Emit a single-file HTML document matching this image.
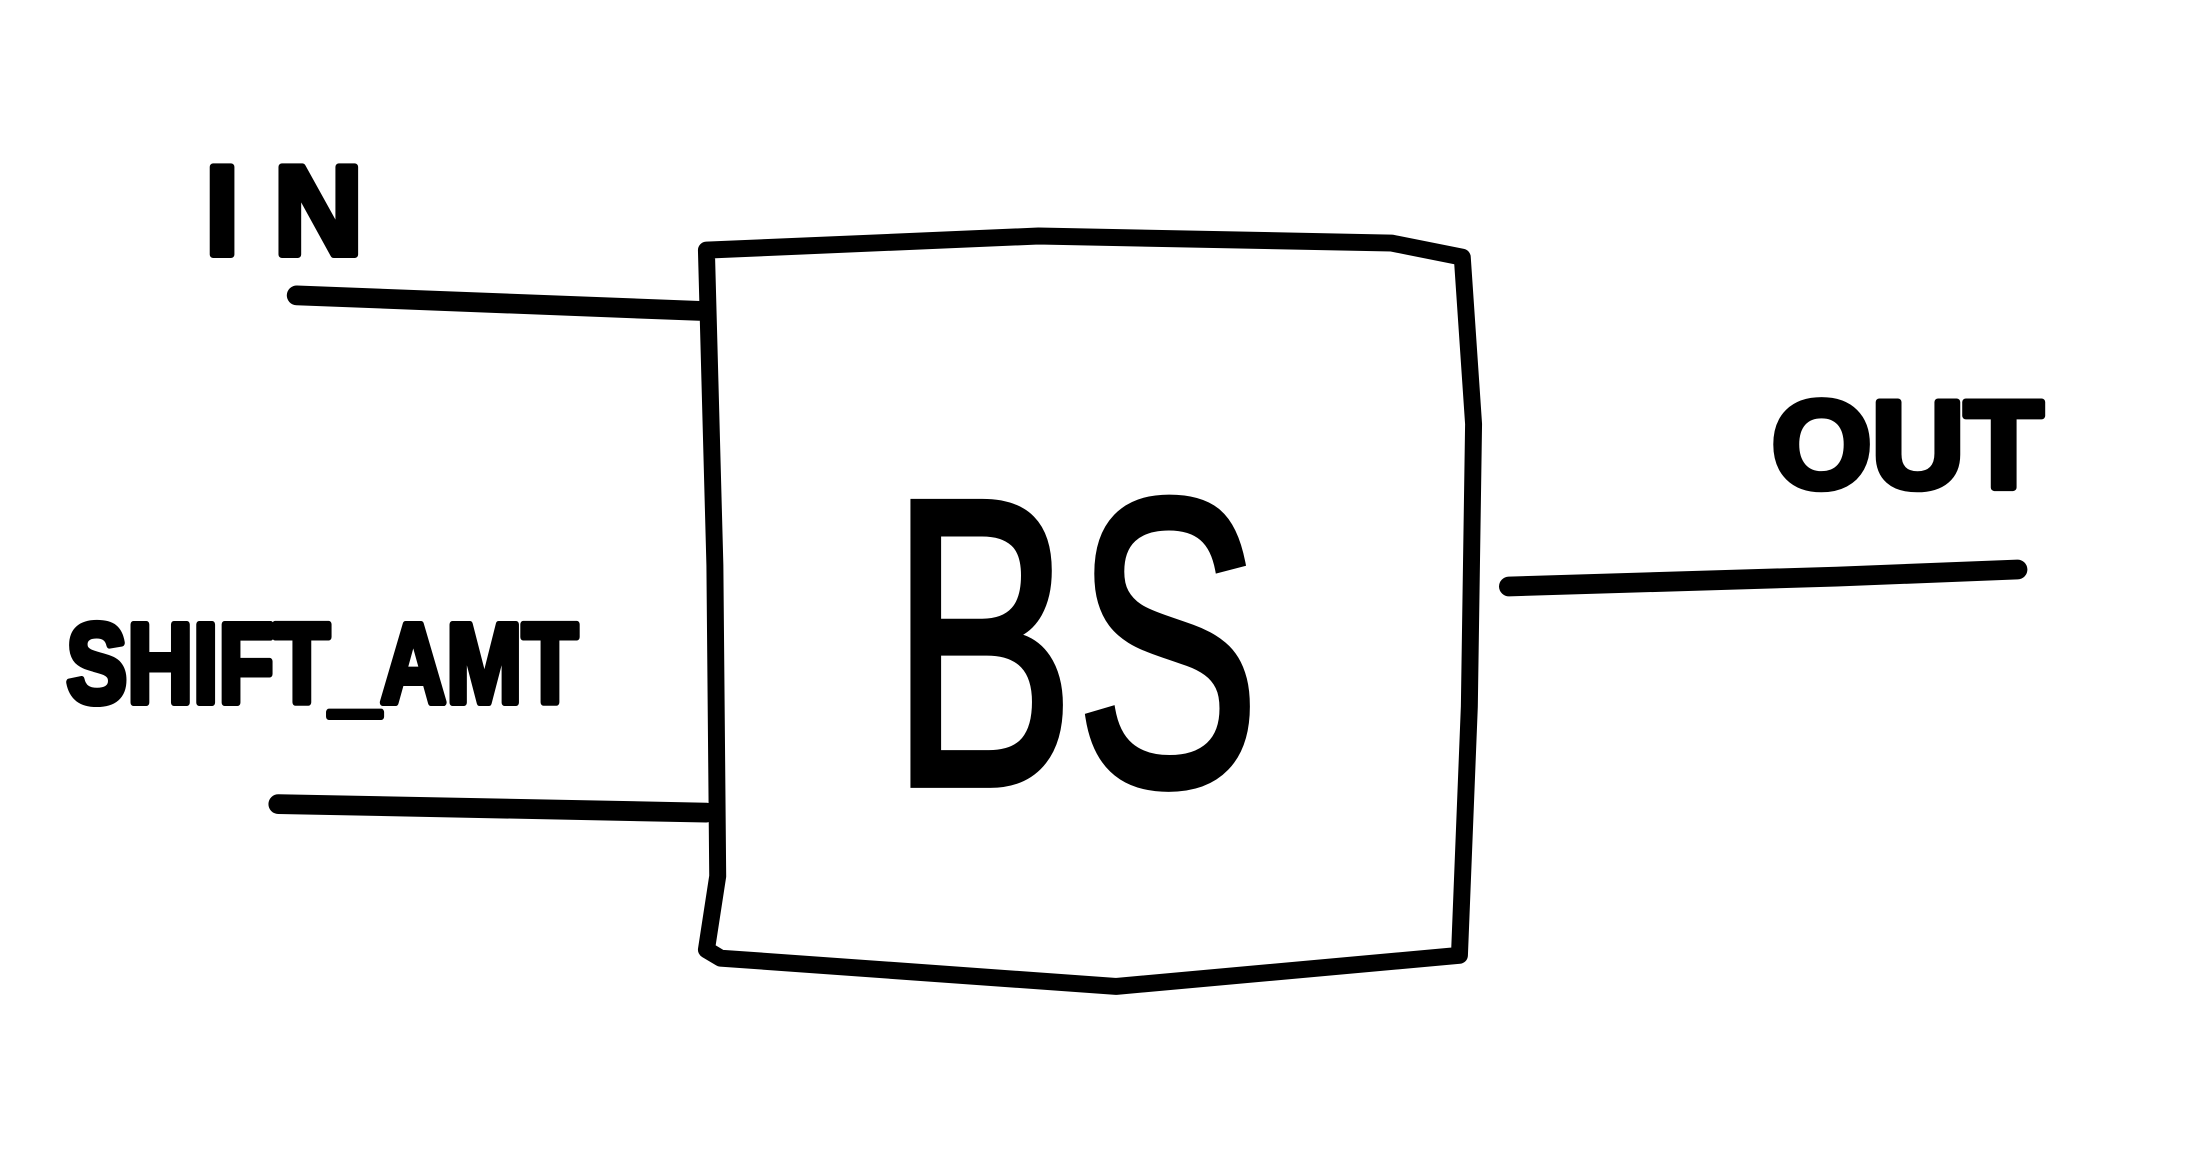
<!DOCTYPE html>
<html><head><meta charset="utf-8"><style>
html,body{margin:0;padding:0;background:#fff;width:2204px;height:1156px;overflow:hidden}
svg{display:block}
</style></head><body>
<svg width="2204" height="1156" viewBox="0 0 1560 818" preserveAspectRatio="none">
<g fill="none" stroke="#000" stroke-width="14" stroke-linecap="round" stroke-linejoin="round">
  <path d="M500,177 L735,167 L985,172 L1035,182 L1043,300 L1040,500 L1033,676 L790,698 L510,678 L500,672 L508,620 L506,400 L500,177 Z" stroke-width="12"/>
  <path d="M210,209 L495,220"/>
  <path d="M197,569 L500,575"/>
  <path d="M1068,415 L1300,408 L1428,403"/>
</g>
<g font-family="Liberation Sans, sans-serif" font-weight="bold" fill="#000" stroke="#000" stroke-width="5" stroke-linejoin="round">
  <text x="145" y="180" font-size="90" textLength="112" lengthAdjust="spacingAndGlyphs">I N</text>
  <text x="47" y="497" font-size="80" textLength="362" lengthAdjust="spacingAndGlyphs">SHIFT_AMT</text>
  <text x="1254" y="345" font-size="88" textLength="192" lengthAdjust="spacingAndGlyphs">OUT</text>
</g>
<g font-family="Liberation Sans, sans-serif" font-weight="normal" fill="#000" stroke="#000" stroke-width="5">
  <text x="630" y="555" font-size="290" textLength="262" lengthAdjust="spacingAndGlyphs">BS</text>
</g>
</svg>
</body></html>
